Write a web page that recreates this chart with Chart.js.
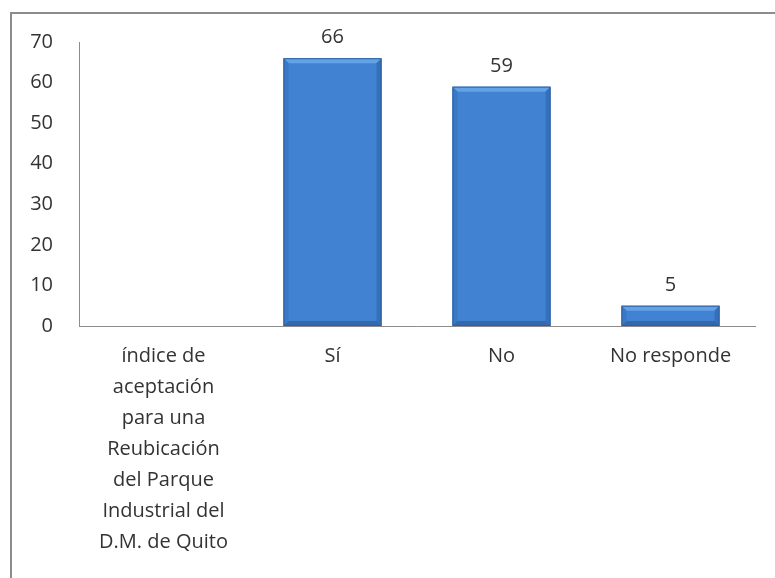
<!DOCTYPE html>
<html>
<head>
<meta charset="utf-8">
<script src="https://cdn.jsdelivr.net/npm/chart.js@4"></script>
<style>
  html, body { margin: 0; padding: 0; background: #fff; }
  #wrap { width: 775px; height: 578px; }
</style>
</head>
<body>
<div id="wrap"><canvas id="chart" width="775" height="578"></canvas></div>
<script>
const categories = [
  ['índice de', 'aceptación', 'para una', 'Reubicación', 'del Parque', 'Industrial del', 'D.M. de Quito'],
  'Sí',
  'No',
  'No responde'
];
const values = [null, 66, 59, 5];
const yTicks = [0, 10, 20, 30, 40, 50, 60, 70];

const textColor = '#333333';
const fontFamily = '"Open Sans", sans-serif';

// outer frame of the chart
const framePlugin = {
  id: 'frame',
  beforeDraw(chart) {
    const ctx = chart.ctx;
    ctx.save();
    ctx.strokeStyle = '#8c8c8c';
    ctx.lineWidth = 2;
    ctx.strokeRect(11, 13, 800, 600);
    ctx.restore();
  }
};

// soft bevel on the bars, then the value labels above them
const barDecor = {
  id: 'barDecor',
  afterDatasetsDraw(chart) {
    const ctx = chart.ctx;
    const meta = chart.getDatasetMeta(0);
    ctx.save();
    meta.data.forEach((bar, i) => {
      if (values[i] == null) return;
      const l = bar.x - bar.width / 2, r = bar.x + bar.width / 2;
      const t = bar.y, b = bar.base;
      const e = Math.min(5, (b - t) / 2);
      // top bevel
      ctx.fillStyle = '#64a2e6';
      ctx.beginPath();
      ctx.moveTo(l, t); ctx.lineTo(r, t); ctx.lineTo(r - e, t + e); ctx.lineTo(l + e, t + e);
      ctx.closePath(); ctx.fill();
      // left / right bevel
      ctx.fillStyle = '#3b78c6';
      ctx.beginPath();
      ctx.moveTo(l, t); ctx.lineTo(l + e, t + e); ctx.lineTo(l + e, b - e); ctx.lineTo(l, b);
      ctx.closePath(); ctx.fill();
      ctx.fillStyle = '#3670bb';
      ctx.beginPath();
      ctx.moveTo(r, t); ctx.lineTo(r - e, t + e); ctx.lineTo(r - e, b - e); ctx.lineTo(r, b);
      ctx.closePath(); ctx.fill();
      // bottom bevel
      ctx.fillStyle = '#3468ae';
      ctx.beginPath();
      ctx.moveTo(l, b); ctx.lineTo(r, b); ctx.lineTo(r - e, b - e); ctx.lineTo(l + e, b - e);
      ctx.closePath(); ctx.fill();
      ctx.strokeStyle = '#2e5f9e';
      ctx.lineWidth = 1;
      ctx.strokeRect(l + 0.5, t + 0.5, r - l - 1, b - t - 1);
    });
    ctx.fillStyle = textColor;
    ctx.font = '20px ' + fontFamily;
    ctx.textAlign = 'center';
    ctx.textBaseline = 'alphabetic';
    meta.data.forEach((bar, i) => {
      if (values[i] == null) return;
      ctx.fillText(values[i], bar.x, bar.y - 15);
    });
    ctx.restore();
  }
};

new Chart(document.getElementById('chart'), {
  type: 'bar',
  data: {
    labels: categories,
    datasets: [{
      data: values,
      backgroundColor: '#4282d3',
      borderWidth: 0,
      categoryPercentage: 1,
      barPercentage: 0.58
    }]
  },
  options: {
    responsive: false,
    animation: false,
    layout: { padding: { top: 42, right: 20, left: 0, bottom: 0 } },
    plugins: {
      legend: { display: false },
      tooltip: { enabled: false }
    },
    scales: {
      x: {
        grid: { display: false, drawTicks: false },
        border: { color: '#8c8c8c', width: 1 },
        ticks: {
          color: textColor,
          font: { family: fontFamily, size: 20, lineHeight: 1.55 },
          padding: 15,
          maxRotation: 0,
          autoSkip: false
        },
        afterFit(scale) { scale.height = 252; }
      },
      y: {
        min: 0,
        max: 70,
        grid: { display: false, drawTicks: false },
        border: { color: '#8c8c8c', width: 1 },
        afterBuildTicks(scale) {
          scale.ticks = yTicks.map(v => ({ value: v }));
        },
        ticks: {
          color: textColor,
          font: { family: fontFamily, size: 20 },
          padding: 26
        },
        afterFit(scale) { scale.width = 79; }
      }
    }
  },
  plugins: [framePlugin, barDecor]
});
</script>
</body>
</html>
